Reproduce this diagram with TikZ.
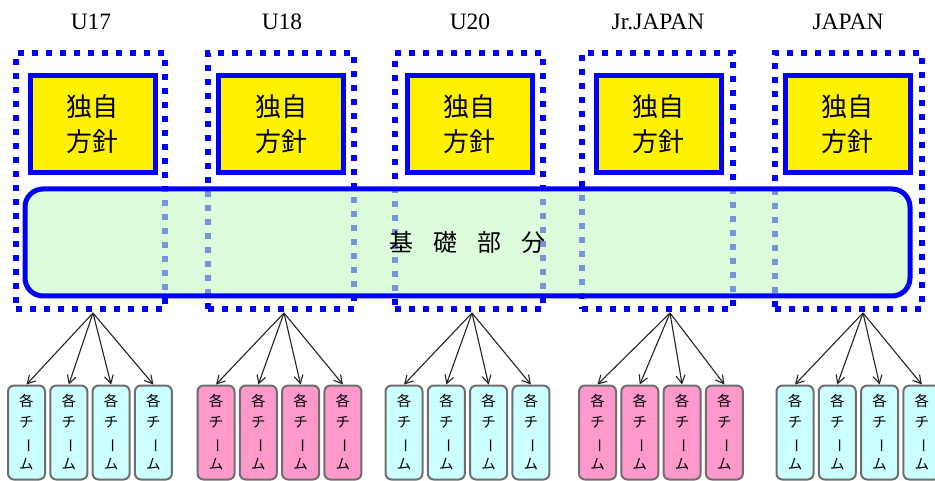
\documentclass[tikz,border=0pt]{standalone}
\usepackage{fontspec}
\setmainfont{Liberation Serif}
\newfontfamily\jp{Noto Sans CJK JP}
\usetikzlibrary{arrows.meta}
\definecolor{dotblue}{RGB}{0,0,255}
\definecolor{basefill}{RGB}{197,250,197}
\definecolor{tcyan}{RGB}{204,255,255}
\definecolor{tpink}{RGB}{255,153,204}
\definecolor{tborder}{RGB}{110,110,110}
\definecolor{arrcol}{RGB}{35,35,35}
\newcommand\teamtext{各\\チ\\\rotatebox[origin=c]{-90}{ー}\\ム}
\begin{document}
\begin{tikzpicture}[x=1pt,y=-1pt,
  grp/.style={draw=dotblue, line width=5.5pt, dash pattern=on 6pt off 8pt, inner sep=0pt, outer sep=0pt},
  policy/.style={draw=dotblue, fill=yellow, line width=5pt, inner sep=0pt,
    minimum width=125pt, minimum height=97pt, align=center,
    font=\jp\fontsize{26}{35}\selectfont},
  lbl/.style={font=\fontsize{23.5}{28}\selectfont, inner sep=0pt},
  basebox/.style={draw=dotblue, line width=5pt, rounded corners=18pt, fill=basefill,
    fill opacity=0.6, draw opacity=1, text opacity=1, inner sep=0pt,
    minimum width=885pt, minimum height=107pt, font=\jp\fontsize{24}{28}\selectfont},
  team/.style={draw=tborder, line width=2pt, rounded corners=6pt, inner sep=0pt,
    minimum width=37pt, minimum height=94pt, align=center,
    font=\jp\fontsize{14.5}{21}\selectfont},
  arr/.style={draw=arrcol, line width=1.1pt, -{Straight Barb[length=8pt,width=9pt]}}
]
\useasboundingbox (0,0) rectangle (935,481);
\clip (0,0) rectangle (935,481);

% dotted group boxes
\node[grp, minimum width=149pt, minimum height=256pt] (g1) at (90.5,181) {};
\node[grp, minimum width=146pt, minimum height=256pt] (g2) at (281,181) {};
\node[grp, minimum width=148pt, minimum height=256pt] (g3) at (469,181) {};
\node[grp, minimum width=151pt, minimum height=256pt] (g4) at (657.5,181) {};
\node[grp, minimum width=147pt, minimum height=256pt] (g5) at (848.5,181) {};

% base box
\node[basebox] (base) at (467.5,242.5) {基\hspace{20pt}礎\hspace{20pt}部\hspace{20pt}分};

% policy boxes
\node[policy] (p1) at (92.5,124.5) {独自\\方針};
\node[policy] (p2) at (281,124.5) {独自\\方針};
\node[policy] (p3) at (469.5,124.5) {独自\\方針};
\node[policy] (p4) at (658.5,124.5) {独自\\方針};
\node[policy] (p5) at (847.5,124.5) {独自\\方針};

% labels
\node[lbl] (l1) at (91,22) {U17};
\node[lbl] (l2) at (282,22) {U18};
\node[lbl] (l3) at (470,22) {U20};
\node[lbl] (l4) at (658,22) {Jr.JAPAN};
\node[lbl] (l5) at (848,22) {JAPAN};

% teams and arrows
\foreach \cx/\col/\sx/\gi in {26.5/tcyan/93/1, 216/tpink/284/2, 404/tcyan/472/3, 597.5/tpink/670/4, 795/tcyan/863/5}{
  \coordinate (s\gi) at (\sx,313);
  \foreach \k in {0,...,3}{
    \node[team, fill=\col] (t\gi\k) at ({\cx+42.3*\k},432.5) {\teamtext};
    \draw[arr] (s\gi) -- (t\gi\k.north);
  }
}
\end{tikzpicture}
\end{document}
